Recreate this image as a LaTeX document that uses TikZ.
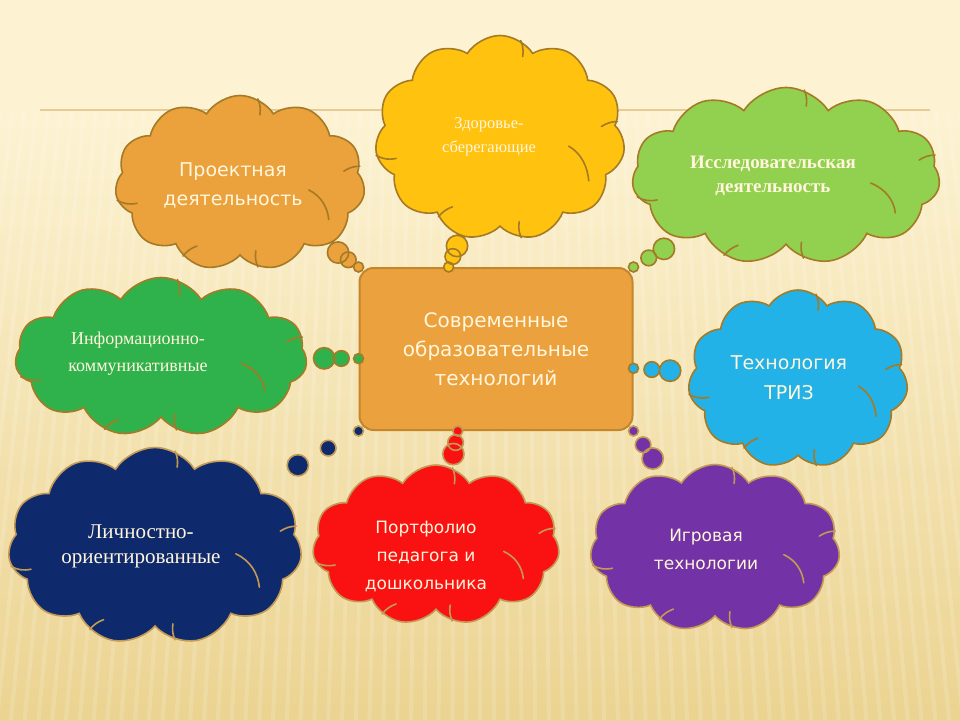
\documentclass[tikz,border=0pt]{standalone}
\usepackage{fontspec}
\setmainfont{Liberation Serif}
\setsansfont{DejaVu Sans}
\usetikzlibrary{shapes.symbols,shapes.callouts}
\definecolor{bgtop}{HTML}{FDF3D3}
\definecolor{bgbot}{HTML}{EBD391}
\definecolor{hline}{HTML}{E3CC97}
\definecolor{cloudline}{HTML}{A47A26}
\definecolor{darkline}{HTML}{C29A55}
\definecolor{coreorange}{HTML}{EBA13E}
\definecolor{coreline}{HTML}{C4862C}
\definecolor{paletext}{HTML}{FFF6DC}
\definecolor{projorange}{HTML}{EBA13C}
\definecolor{zdoryellow}{HTML}{FFC20E}
\definecolor{issllime}{HTML}{92D050}
\definecolor{infogreen}{HTML}{2FB24B}
\definecolor{trizblue}{HTML}{22B2E8}
\definecolor{lichnavy}{HTML}{0F2A6C}
\definecolor{portred}{HTML}{FA1212}
\definecolor{igrpurple}{HTML}{7332A6}
% inner folds of a cloud: node, half width, half height, colour
\newcommand{\cloudcurls}[4]{%
    \begin{scope}[draw=#4, line width=1.6pt, line cap=round]
    \draw (#1.188) to[bend right=20] ++(20,3);
    \draw (#1.78) to[bend left=15] ++(2,16);
    \draw (#1.8) to[bend right=15] ++(-16,5);
    \draw (#1.-78) to[bend left=15] ++(-2,-16);
    \draw (#1.232) to[bend left=15] ++(14,-10);
    \end{scope}
    \begin{scope}[shift={(#1.center)}, x=#2pt, y=-#3pt,
        draw=#4, line width=1.6pt, line cap=round]
    \draw (0.55,0.08) .. controls (0.65,0.15) and (0.70,0.28) .. (0.71,0.42);
    \end{scope}}
\begin{document}
\begin{tikzpicture}[x=1pt, y=-1pt,
    thought/.style={cloud callout, cloud puffs=11, cloud puff arc=115,
        cloud ignores aspect, draw=cloudline, line width=1.6pt,
        inner sep=0pt, callout pointer segments=3,
        callout pointer start size=27pt, callout pointer end size=10pt},
    label/.style={align=center, text=paletext, inner sep=0pt},
    core/.style={rectangle, rounded corners=14pt, fill=coreorange,
        draw=coreline, line width=2pt, minimum width=273pt,
        minimum height=162pt, align=center, text=paletext,
        font=\sffamily\fontsize{20}{29}\selectfont}]
    \useasboundingbox (0,0) rectangle (960,720);
    \fill[bgtop] (0,0) rectangle (960,720);
    \shade[top color=bgtop, bottom color=bgbot] (0,110) rectangle (960,720);
    \foreach \s in {-60,-48,...,1020}
        \draw[white, opacity=0.15, line width=4pt]
            (\s,112)--({480+(\s-480)*1.15},720);
    \draw[hline, line width=1.2pt] (40,110)--(930,110);

    \node[core] (core) at (496,349) {Современные\\образовательные\\технологий};

    % облака
    \node[thought, fill=projorange, minimum width=250pt, minimum height=175pt,
        callout absolute pointer={(core.north west)}] (proj) at (240,183) {};
    \node[thought, fill=zdoryellow, minimum width=250pt, minimum height=205pt,
        callout absolute pointer={(core.120)}] (zdor) at (500,138) {};
    \node[thought, fill=issllime, minimum width=308pt, minimum height=177pt,
        callout absolute pointer={(core.north east)}] (issl) at (786,176) {};
    \node[thought, fill=infogreen, minimum width=292pt, minimum height=159pt,
        callout absolute pointer={(core.184)}] (info) at (161,357) {};
    \node[thought, fill=trizblue, minimum width=220pt, minimum height=178pt,
        callout absolute pointer={(core.-8)}] (triz) at (798,379) {};
    \node[thought, fill=lichnavy, draw=darkline, minimum width=294pt,
        minimum height=197pt, callout absolute pointer={(core.south west)}]
        (lich) at (155,546) {};
    \node[thought, fill=portred, draw=darkline, minimum width=247pt,
        minimum height=160pt, callout absolute pointer={(core.245)}]
        (port) at (436,545) {};
    \node[thought, fill=igrpurple, draw=darkline, minimum width=250pt,
        minimum height=167pt, callout absolute pointer={(core.south east)}]
        (igr) at (715,548) {};

    \cloudcurls{proj}{125}{87}{cloudline}
    \cloudcurls{zdor}{125}{102}{cloudline}
    \cloudcurls{issl}{154}{88}{cloudline}
    \cloudcurls{info}{146}{80}{cloudline}
    \cloudcurls{triz}{110}{89}{cloudline}
    \cloudcurls{lich}{147}{98}{darkline}
    \cloudcurls{port}{123}{80}{darkline}
    \cloudcurls{igr}{125}{83}{darkline}

    % подписи
    \node[label, font=\sffamily\fontsize{19}{29}\selectfont]
        (projtext) at (233,185) {Проектная\\деятельность};
    \node[label, font=\fontsize{16.5}{24}\selectfont]
        (zdortext) at (489,137) {Здоровье-\\сберегающие};
    \node[label, font=\bfseries\fontsize{19}{24}\selectfont]
        (issltext) at (773,176) {Исследовательская\\деятельность};
    \node[label, font=\fontsize{18}{27}\selectfont]
        (infotext) at (138,354) {Информационно-\\коммуникативные};
    \node[label, font=\sffamily\fontsize{19}{30}\selectfont]
        (triztext) at (789,378) {Технология\\ТРИЗ};
    \node[label, font=\fontsize{21}{25}\selectfont]
        (lichtext) at (141,546) {Личностно-\\ориентированные};
    \node[label, font=\sffamily\fontsize{17}{28}\selectfont]
        (porttext) at (426,556) {Портфолио\\педагога и\\дошкольника};
    \node[label, font=\sffamily\fontsize{17}{28}\selectfont]
        (igrtext) at (706,549) {Игровая\\технологии};
\end{tikzpicture}
\end{document}
